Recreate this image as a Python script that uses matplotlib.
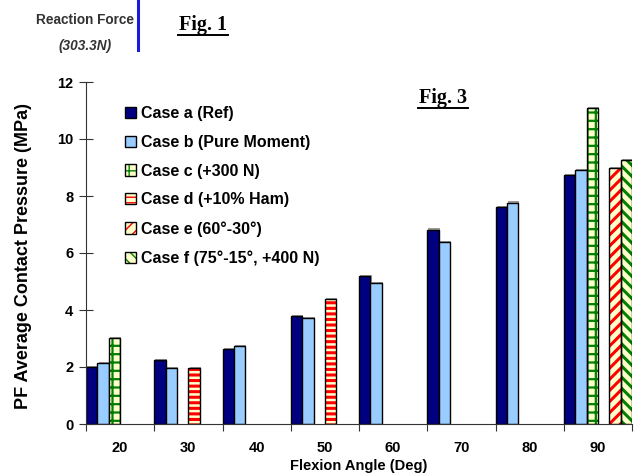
import numpy as np
import matplotlib
matplotlib.use("Agg")
import matplotlib.pyplot as plt
from matplotlib.patches import Patch
from matplotlib.legend_handler import HandlerTuple
from matplotlib.lines import Line2D

# -----------------------------------------------------------------------------
# Data
# -----------------------------------------------------------------------------
angles = [20, 30, 40, 50, 60, 70, 80, 90]
nan = np.nan
case_a = [2.00, 2.25, 2.63, 3.79, 5.20, 6.82, 7.60, 8.73]
case_b = [2.13, 1.97, 2.72, 3.71, 4.95, 6.39, 7.77, 8.90]
case_c = [3.02, nan, nan, nan, nan, nan, nan, 11.09]
case_d = [nan, 1.95, nan, 4.39, nan, nan, nan, nan]
case_e = [nan, nan, nan, nan, nan, nan, nan, 8.97]
case_f = [nan, nan, nan, nan, nan, nan, nan, 9.26]

labels = [
    "Case a (Ref)",
    "Case b (Pure Moment)",
    "Case c (+300 N)",
    "Case d (+10% Ham)",
    "Case e (60\u00b0-30\u00b0)",
    "Case f (75\u00b0-15\u00b0, +400 N)",
]

# style per series: facecolor, hatch, hatch colour, hatch linewidth
YEL = "#FFFFCC"
styles = [
    ("#000080", None, None, 1.0),
    ("#99CCFF", None, None, 1.0),
    (YEL, "++", "#008000", 1.6),
    (YEL, "---", "#FF0000", 2.2),
    (YEL, "///", "#FF0000", 2.2),
    (YEL, "\\\\\\", "#008000", 2.2),
]

SANS = ["Liberation Sans", "DejaVu Sans"]
SERIF = ["Liberation Serif", "DejaVu Serif"]
plt.rcParams["font.family"] = SANS
plt.rcParams["font.weight"] = "bold"

fig = plt.figure(figsize=(6.42, 4.76), dpi=100)
ax = fig.add_axes([86 / 642, 52 / 476, 546 / 642, 342 / 476])

series = [case_a, case_b, case_c, case_d, case_e, case_f]
x = np.asarray(angles, dtype=float)
slot = 10.0 / 6
handles = []
for i, (vals, (fc, hatch, hc, hlw)) in enumerate(zip(series, styles)):
    vals = np.asarray(vals, dtype=float)
    pos = x - 5 + (i + 0.5) * slot
    ok = ~np.isnan(vals)
    # faint shadow like the original spreadsheet chart
    ax.bar(pos[ok] + 0.18, vals[ok] + 0.04, width=slot, color="#9a9a9a",
           linewidth=0, zorder=1)
    if hatch is None:
        ax.bar(pos[ok], vals[ok], width=slot, color=fc, edgecolor="black",
               linewidth=1.0, zorder=2)
        handles.append(Patch(facecolor=fc, edgecolor="black", linewidth=1.0))
    else:
        with plt.rc_context({"hatch.linewidth": hlw}):
            ax.bar(pos[ok], vals[ok], width=slot, color=fc, edgecolor=hc,
                   hatch=hatch, linewidth=0, zorder=2)
            hp = Patch(facecolor=fc, edgecolor=hc, hatch=hatch, linewidth=0)
        ax.bar(pos[ok], vals[ok], width=slot, fill=False, edgecolor="black",
               linewidth=1.0, zorder=3)
        op = Patch(fill=False, edgecolor="black", linewidth=1.0)
        handles.append((hp, op))

ax.set_xlim(15, 95)
ax.set_ylim(0, 12)
ax.set_yticks(np.arange(0, 13, 2))
ax.set_xticks(np.arange(15, 96, 10))
ax.set_xticklabels([])
ax.set_xticks(angles, minor=True)
ax.set_xticklabels([str(a) for a in angles], minor=True)
ax.tick_params(axis="x", which="major", direction="out", length=5, color="#333333")
ax.tick_params(axis="x", which="minor", length=0, pad=12, labelsize=10.5)
ax.tick_params(axis="y", direction="inout", length=10, color="#333333", labelsize=10.5, pad=4)
for s in ("top", "right"):
    ax.spines[s].set_visible(False)
for s in ("left", "bottom"):
    ax.spines[s].set_color("#333333")

ax.set_xlabel("Flexion Angle (Deg)", fontsize=10.5, fontweight="bold", labelpad=3)
ax.set_ylabel("PF Average Contact Pressure (MPa)", fontsize=13, fontweight="bold")
ax.yaxis.set_label_coords(-0.098, 0.49)

leg = ax.legend(handles, labels, loc="upper left", bbox_to_anchor=(0.06, 0.948),
                frameon=False, fontsize=11.5, handlelength=0.7, handleheight=0.7,
                handletextpad=0.3, labelspacing=0.86, borderaxespad=0,
                handler_map={tuple: HandlerTuple(ndivide=1, pad=0)})

# "Fig. 3" inside the plot
fig.text(443 / 642, 1 - 98 / 476, "Fig. 3", family=SERIF, fontsize=14.5,
         fontweight="bold", ha="center", va="center")
fig.add_artist(Line2D([418 / 642, 468 / 642], [1 - 108 / 476] * 2,
                      color="black", linewidth=1.4))

# header fragment from the neighbouring figure
fig.text(85 / 642, 1 - 20 / 476, "Reaction Force",
         family=SANS, fontsize=9.8,
         fontweight="bold", color="#333333", ha="center", va="center")
fig.text(85 / 642, 1 - 46 / 476, "(303.3N)",
         family=SANS, fontsize=9.8,
         fontweight="bold", style="italic", color="#333333", ha="center", va="center")
fig.add_artist(Line2D([138 / 642, 138 / 642], [1.0, 1 - 50 / 476],
                      color="#1a1adc", linewidth=2.2))
fig.text(203 / 642, 1 - 25 / 476, "Fig. 1", family=SERIF, fontsize=14.5,
         fontweight="bold", ha="center", va="center")
fig.add_artist(Line2D([178 / 642, 228 / 642], [1 - 35 / 476] * 2,
                      color="black", linewidth=1.4))

fig.savefig("out.png", dpi=100)
